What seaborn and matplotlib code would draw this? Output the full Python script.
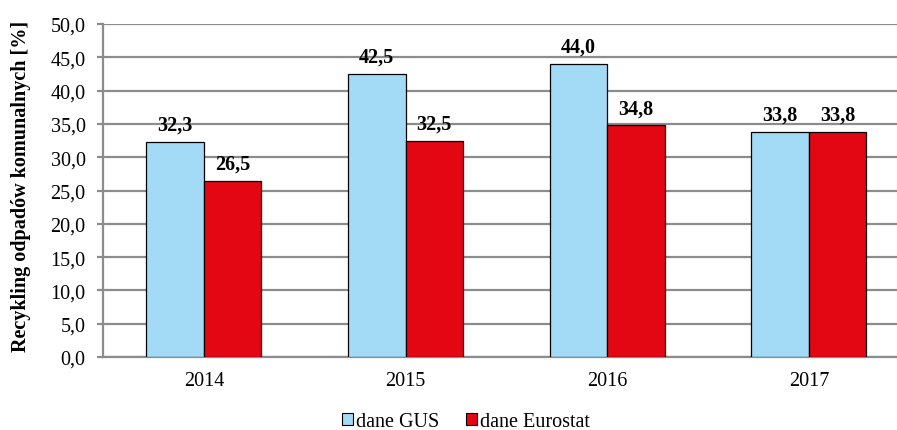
import numpy as np
import pandas as pd
import matplotlib
matplotlib.use("Agg")
import matplotlib.pyplot as plt
import seaborn as sns
from matplotlib.patches import Patch

# --- data ---
years = ["2014", "2015", "2016", "2017"]
gus = [32.3, 42.5, 44.0, 33.8]
eurostat = [26.5, 32.5, 34.8, 33.8]
series = ["dane GUS", "dane Eurostat"]
colors = ["#A3DAF6", "#E30613"]
yticks = np.arange(0, 50.1, 5)

df = pd.DataFrame({
    "rok": years * 2,
    "wartosc": gus + eurostat,
    "seria": [series[0]] * len(years) + [series[1]] * len(years),
})

sns.set_style("white")
plt.rcParams["font.family"] = ["Liberation Serif", "DejaVu Serif"]
plt.rcParams["text.color"] = "black"
plt.rcParams["xtick.color"] = "black"
plt.rcParams["ytick.color"] = "black"
plt.rcParams["axes.labelcolor"] = "black"

grid_col = "#8c8c8c"

fig = plt.figure(figsize=(8.97, 4.31), dpi=100)
ax = fig.add_axes([103 / 897, 73 / 431, 794 / 897, 333 / 431])

sns.barplot(data=df, x="rok", y="wartosc", hue="seria", palette=colors,
            saturation=1, width=0.57, edgecolor="black", linewidth=0.9,
            ax=ax, legend=False, zorder=3)

for cont in ax.containers:
    labels = [f"{v:.1f}".replace(".", ",") for v in cont.datavalues]
    ax.bar_label(cont, labels=labels, padding=5, fontsize=14.5,
                 fontweight="bold")

ax.set_xlim(-0.5, 3.437)
ax.set_ylim(0, 50)
ax.set_yticks(yticks)
ax.set_yticklabels([f"{t:.1f}".replace(".", ",") for t in yticks], fontsize=14.5)
ax.tick_params(axis="x", labelsize=14.5, length=0, pad=10)
ax.tick_params(axis="y", length=4.5, width=1.6, color=grid_col, pad=8,
               direction="out", left=True)
ax.yaxis.grid(True, color=grid_col, linewidth=1.6, zorder=0)
ax.set_axisbelow(True)
for s in ["top", "right"]:
    ax.spines[s].set_visible(False)
for s in ["left", "bottom"]:
    ax.spines[s].set_color(grid_col)
    ax.spines[s].set_linewidth(1.6)
ax.set_xlabel("")
ax.set_ylabel("Recykling odpadów komunalnych [%]", fontsize=14.5,
              fontweight="bold")
ax.yaxis.set_label_coords(-72 / 794, 0.515)

handles = [Patch(facecolor=c, edgecolor="black", linewidth=0.8) for c in colors]
fig.legend(handles, series, loc="center", bbox_to_anchor=(466 / 897, 8 / 431),
           ncol=2, frameon=False, fontsize=14.5, handlelength=0.55,
           handleheight=0.55, handletextpad=0.15, columnspacing=1.3,
           borderpad=0, borderaxespad=0)

fig.savefig("out.png", dpi=100)
